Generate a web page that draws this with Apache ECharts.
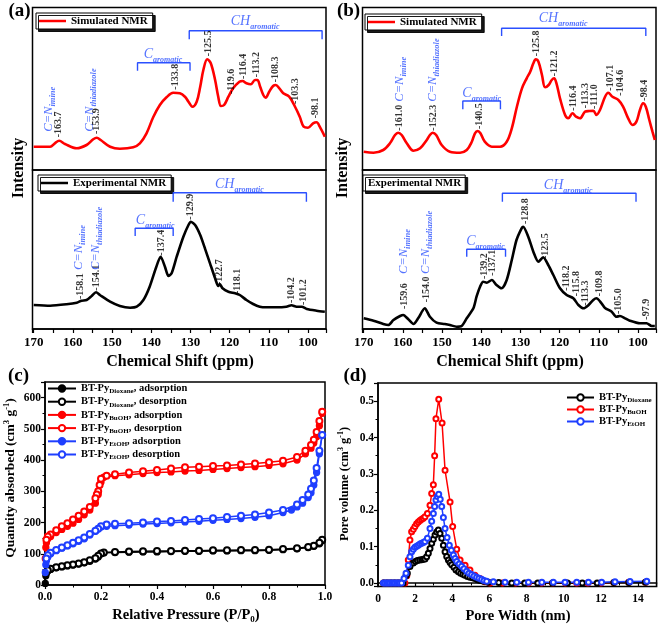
<!DOCTYPE html>
<html><head><meta charset="utf-8">
<script src="https://cdn.jsdelivr.net/npm/echarts/dist/echarts.min.js"></script>
<style>html,body{margin:0;padding:0;background:#fff}#c{width:661px;height:625px}</style>
</head><body><div id="c"></div>
<script>
const FF = "'Liberation Serif','Times New Roman',Times,serif";
const RED = '#ff0000', BLU = '#1f3fff', ANN = '#2b50ff';

// ---------- (a) 13C NMR ----------
const simA_ppm = [170,165.8,164.6,163.5,162.0,159.0,156.5,154.8,153.9,152.9,150.5,148.0,144.6,142.9,141.2,139.5,137.8,136.1,134.4,132.7,131.4,130.5,129.5,128.4,127.5,126.7,125.7,124.8,123.7,122.9,122.2,121.4,120.3,119.1,117.5,116.7,115.7,114.6,113.5,112.9,112.2,111.4,110.8,109.9,108.9,108.2,107.3,106.3,104.8,103.4,102.1,101.1,100.0,98.7,97.8,97.0,95.7];
const simA_int = [23.3,23.3,26.7,29.3,26.0,21.7,25.0,30.7,32.3,30.0,23.3,21.3,22.7,26.7,36.7,52.7,65.0,72.7,77.3,76.7,73.3,68.3,63.3,68.3,83.3,100.0,110.7,106.7,90.0,73.3,64.0,65.0,73.3,81.7,88.3,89.0,86.7,85.7,90.0,90.0,83.3,75.0,72.3,78.3,84.0,85.0,81.7,76.7,73.3,64.0,53.3,43.3,42.3,46.7,47.7,43.3,33.3];
const expA_ppm = [170,165.8,161.6,159.0,157.8,156.5,155.2,154.1,153.1,150.5,148.0,145.4,143.7,142.0,140.4,138.7,137.6,136.5,135.6,134.8,133.5,131.8,130.5,129.9,128.8,127.5,126.3,125.0,123.7,122.9,122.5,121.8,120.3,118.6,117.4,115.7,114.0,112.3,110.6,108.0,105.5,104.2,102.9,101.6,100.3,97.8,95.7];
const expA_int = [24.0,23.3,24.7,26.3,28.3,29.0,33.0,36.7,34.0,27.3,23.0,21.3,22.3,29.0,42.3,62.3,72.3,62.3,53.0,55.7,72.3,92.3,104.0,107.3,104.0,94.0,80.7,65.7,50.7,43.0,45.0,40.7,37.3,35.7,34.0,29.0,25.0,22.3,21.7,21.7,22.3,23.7,22.3,22.3,20.0,18.3,17.3];
const simA_peaks = [163.7,153.9,133.8,125.5,119.6,116.4,113.2,108.3,103.3,98.1];
const simA_peakH = [31.7,35,79.3,112.7,75,90,91.7,86.7,65,50.7];
const expA_peaks = [158.1,154.1,137.4,129.9,122.7,118.1,104.2,101.2];
const expA_peakH = [29,37.3,72.3,108.3,43,34,25,23];
const simA_cn = [[166.1,38.3],[155.7,38.3]];
const expA_cn = [[158.6,59],[154.1,59]];
const simA_brk = [[143.5,130.1,107.3,99.3],[130.3,96.4,139.3,130.7]];
const expA_brk = [[144.1,134.4,100.7,93],[134.4,100.4,136.3,127.3]];
const simA_brkTxt = [[137.0,116],[113.5,149]];
const expA_brkTxt = [[139.0,109],[117.5,145]];

// ---------- (b) 13C NMR ----------
const simB_ppm = [170,167.5,165.0,163.3,162.0,161.2,160.3,159.0,157.3,155.6,153.9,153.1,152.4,151.5,150.1,148.0,145.4,143.7,142.4,141.6,140.9,140.2,139.1,137.3,135.2,133.5,132.2,130.9,129.6,128.4,127.5,126.7,126.1,125.4,124.5,123.7,122.8,122.0,121.4,120.8,119.9,118.6,117.8,116.7,115.8,114.8,113.5,112.4,111.4,110.6,109.7,108.4,107.6,106.5,105.0,103.8,102.5,101.4,100.4,99.5,98.7,98.0,97.1,96.3,95.7];
const simB_int = [18.3,17.3,20.0,26.7,35.0,37.3,35.0,26.7,19.3,21.7,30.0,35.0,37.3,35.0,25.0,18.3,17.3,20.0,28.3,36.7,39.0,36.7,28.3,23.3,23.3,28.3,41.7,63.3,81.7,91.7,98.3,106.7,110.7,108.3,95.0,82.7,85.0,90.0,91.7,86.7,71.7,55.0,51.7,56.7,53.3,51.7,58.3,59.0,59.3,55.0,60.0,73.3,77.3,73.3,70.0,63.3,51.7,45.0,48.3,60.0,66.7,63.3,50.0,38.3,30.0];
const expB_ppm = [170,167.5,165.0,163.7,162.4,160.7,159.9,158.6,157.3,156.1,154.4,153.1,151.4,149.3,148.0,146.3,145.0,143.7,142.0,141.2,140.3,139.5,138.6,137.3,136.1,134.8,133.5,132.2,131.0,129.7,129.3,128.0,126.7,125.4,124.2,122.9,121.6,119.9,118.2,116.5,115.2,113.9,112.6,111.4,110.6,109.3,108.4,106.7,105.5,104.6,103.3,102.1,99.5,97.8,96.5,95.7];
const expB_int = [10.7,8.3,5.0,4.0,9.0,13.0,14.0,9.7,5.0,10.7,20.7,12.3,6.3,5.0,4.0,2.3,3.0,10.7,20.7,32.3,42.3,47.3,46.3,49.0,44.0,40.7,49.0,69.0,89.0,100.7,102.3,92.3,77.3,67.3,71.7,64.0,54.0,40.7,34.0,30.7,24.0,20.7,24.0,29.0,30.7,25.7,21.0,17.3,12.3,13.0,10.7,8.3,5.7,5.7,3.0,3.0];
const simB_peaks = [161.0,152.3,140.5,125.8,121.2,116.4,113.3,111.0,107.1,104.6,98.4];
const simB_peakH = [38.3,38.3,40,112.7,92.7,58.3,60.7,60,78.3,73.3,68.3];
const expB_peaks = [159.6,154.0,139.2,137.1,128.8,123.5,118.2,115.8,113.3,109.8,105.0,97.9];
const expB_peakH = [19,25.7,49,52.3,104,69,37.3,31.7,22.3,31.7,14,8.3];
const simB_cn = [[160.8,68.3],[152.5,68.3]];
const expB_cn = [[159.9,55],[154.1,55]];
const simB_brk = [[144.7,135.1,69,60.7],[134.8,98.0,141.7,134]];
const expB_brk = [[143.7,133.8,79.7,72.3],[134.6,100.5,135.7,127.3]];
const simB_brkTxt = [[139.9,76.7],[119.1,151.7]];
const expB_brkTxt = [[138.9,87.3],[117.8,144]];

// ---------- (c) N2 isotherms ----------
const P_ads_dx = [0.001,0.003,0.005,0.01,0.02,0.04,0.06,0.08,0.10,0.12,0.14,0.16,0.18,0.19,0.20,0.21,0.25,0.30,0.35,0.40,0.45,0.50,0.55,0.60,0.65,0.70,0.75,0.80,0.85,0.90,0.94,0.96,0.98,0.99];
const Q_ads_dx = [5,30,38,45,50,55,58,61,64,67,71,76,83,90,100,103,104,105,106,106,107,108,108,109,109,110,110,111,113,116,120,124,132,142];
const P_des_dx = [0.99,0.98,0.96,0.94,0.90,0.85,0.80,0.75,0.70,0.65,0.60,0.55,0.50,0.45,0.40,0.35,0.30,0.25,0.21,0.20,0.19,0.18,0.16,0.14,0.12,0.10,0.08,0.06,0.04,0.02,0.01];
const Q_des_dx = [145,135,126,122,118,115,113,112,112,111,111,110,110,109,109,108,107,106,104,101,94,86,79,73,69,66,63,60,57,52,47];
const P_ads_bu = [0.001,0.003,0.005,0.01,0.02,0.04,0.06,0.08,0.10,0.12,0.14,0.16,0.18,0.19,0.20,0.21,0.25,0.30,0.35,0.40,0.45,0.50,0.55,0.60,0.65,0.70,0.75,0.80,0.85,0.90,0.93,0.95,0.96,0.97,0.98,0.99];
const Q_ads_bu = [85,120,135,148,155,168,178,188,198,210,225,240,262,290,330,345,350,353,357,360,362,365,367,370,373,376,379,383,388,400,420,438,455,475,510,550];
const P_des_bu = [0.99,0.98,0.97,0.96,0.95,0.93,0.90,0.85,0.80,0.75,0.70,0.65,0.60,0.55,0.50,0.45,0.40,0.35,0.30,0.25,0.22,0.20,0.195,0.19,0.185,0.18,0.16,0.14,0.12,0.10,0.08,0.06,0.04,0.02,0.01,0.005];
const Q_des_bu = [555,525,490,465,448,430,410,398,393,389,386,383,381,379,377,373,368,364,360,355,350,340,320,300,290,278,250,235,222,210,198,188,175,162,155,145];
const P_ads_et = [0.001,0.003,0.005,0.01,0.02,0.04,0.06,0.08,0.10,0.12,0.14,0.16,0.18,0.19,0.20,0.22,0.25,0.30,0.35,0.40,0.45,0.50,0.55,0.60,0.65,0.70,0.75,0.80,0.85,0.88,0.90,0.92,0.94,0.95,0.96,0.97,0.98,0.99];
const Q_ads_et = [40,65,78,90,100,110,118,125,132,140,148,160,172,180,186,188,190,192,195,197,199,202,204,207,210,213,217,222,232,240,250,262,280,295,320,360,420,480];
const P_des_et = [0.99,0.98,0.97,0.96,0.95,0.94,0.92,0.90,0.85,0.80,0.75,0.70,0.65,0.60,0.55,0.50,0.45,0.40,0.35,0.30,0.25,0.22,0.20,0.19,0.18,0.16,0.14,0.12,0.10,0.08,0.06,0.04,0.02,0.01,0.005];
const Q_des_et = [480,430,375,335,308,290,272,258,240,232,226,222,218,214,211,208,205,203,200,198,196,194,188,180,174,163,152,143,135,127,120,112,103,95,85];

// ---------- (d) pore size distribution ----------
const pw_dx = [0.30,0.45,0.60,0.75,0.90,1.05,1.20,1.35,1.51,1.58,1.72,1.90,2.01,2.12,2.24,2.35,2.44,2.53,2.62,2.71,2.80,2.89,2.98,3.07,3.16,3.25,3.34,3.43,3.52,3.61,3.70,3.79,3.88,3.97,4.09,4.20,4.33,4.45,4.57,4.68,4.82,4.95,5.09,5.22,5.36,5.49,5.60,5.71,5.94,6.50,7.20,7.90,8.60,9.40,10.20,11.00,11.80,12.70,13.50,14.40];
const pv_dx = [0,0,0,0,0,0,0,0,0.020,0.027,0.045,0.055,0.059,0.062,0.063,0.064,0.065,0.066,0.072,0.082,0.095,0.109,0.120,0.132,0.140,0.146,0.136,0.123,0.104,0.086,0.073,0.063,0.056,0.050,0.043,0.036,0.031,0.027,0.024,0.021,0.018,0.016,0.014,0.012,0.009,0.007,0.006,0.005,0.002,0.001,0,0,0,0,0,0,0,0.001,0.001,0.002];
const pw_bu = [0.30,0.50,0.70,0.90,1.10,1.30,1.45,1.55,1.63,1.72,1.81,1.90,1.99,2.08,2.17,2.26,2.35,2.44,2.53,2.66,2.80,2.89,2.98,3.05,3.12,3.27,3.45,3.61,3.88,4.02,4.24,4.42,4.69,4.95,5.22,5.49,5.76,6.03,6.70,7.40,8.10,8.80,9.40,10.10,10.70,11.30,12.00,12.70,13.50,14.40];
const pv_bu = [0,0,0,0,0,0,0,0.020,0.063,0.118,0.141,0.148,0.155,0.163,0.168,0.172,0.175,0.178,0.182,0.191,0.214,0.246,0.270,0.350,0.452,0.505,0.440,0.310,0.223,0.155,0.093,0.063,0.049,0.036,0.021,0.012,0.003,0,0,0,0,0,0,0,0,0,0,0.001,0.002,0.002];
const pw_et = [0.29,0.38,0.47,0.56,0.65,0.74,0.83,0.92,1.01,1.10,1.18,1.27,1.40,1.51,1.63,1.72,1.81,1.90,1.99,2.08,2.17,2.26,2.35,2.44,2.53,2.66,2.80,2.89,2.98,3.05,3.12,3.20,3.27,3.35,3.43,3.52,3.61,3.72,3.84,3.95,4.06,4.15,4.24,4.37,4.50,4.63,4.77,4.90,5.04,5.17,5.31,5.44,5.58,5.71,5.85,6.21,6.84,7.47,8.10,8.82,9.44,10.07,10.70,11.33,12.04,12.76,13.57,14.47];
const pv_et = [0,0,0,0,0,0,0,0,0,0,0,0,0.012,0.027,0.049,0.072,0.086,0.093,0.098,0.101,0.104,0.107,0.109,0.111,0.114,0.123,0.150,0.170,0.191,0.210,0.228,0.238,0.244,0.230,0.210,0.180,0.150,0.125,0.104,0.090,0.077,0.067,0.059,0.052,0.046,0.039,0.032,0.027,0.023,0.019,0.016,0.013,0.010,0.007,0.005,0.003,0.002,0.002,0.002,0.002,0.002,0.002,0.002,0.002,0.002,0.003,0.004,0.005];

// ---------- helpers ----------
const zip = (a, b) => a.map((v, i) => [v, b[i]]);
const subRich = (main, sub, color, italic, mw) => ({
  m: {fontSize: main, fontFamily: FF, fontStyle: italic ? 'italic' : 'normal', fontWeight: mw || 'normal', color, lineHeight: main + 5},
  s: {fontSize: sub, fontFamily: FF, fontStyle: italic ? 'italic' : 'normal', fontWeight: 'bold', color, lineHeight: sub, verticalAlign: 'bottom'}
});
function curve(gi, xs, ys, color, name, sm) {
  return {type: 'line', name, xAxisIndex: gi, yAxisIndex: gi, data: zip(xs, ys), symbol: 'none', smooth: sm,
    lineStyle: {color, width: 2.6}, itemStyle: {color}, z: 3, silent: true};
}
function peakLabels(gi, vals, hs) {
  return {type: 'scatter', xAxisIndex: gi, yAxisIndex: gi, symbolSize: 0, silent: true, z: 6,
    data: vals.map((v, i) => ({name: '-' + v.toFixed(1), value: [v, hs[i]]})),
    label: {show: true, position: 'top', distance: 1, rotate: 90, align: 'left', verticalAlign: 'middle',
      formatter: p => p.name, fontFamily: FF, fontWeight: 'bold', fontSize: 10, color: '#000'}};
}
function cnLabels(gi, pos) {
  const subs = ['imine', 'thiadiazole'];
  return {type: 'scatter', xAxisIndex: gi, yAxisIndex: gi, symbolSize: 0, silent: true, z: 6,
    data: pos.map((p, i) => ({name: '{m|C=N}{s|' + subs[i] + '}', value: p})),
    label: {show: true, position: 'top', distance: 0, rotate: 90, align: 'left', verticalAlign: 'middle',
      formatter: p => p.name, rich: subRich(12.5, 8.5, ANN, true)}};
}
function brackets(gi, brk) {
  return brk.map(b => ({type: 'line', xAxisIndex: gi, yAxisIndex: gi, symbol: 'none', silent: true, z: 4,
    lineStyle: {color: ANN, width: 1.4}, data: [[b[0], b[3]], [b[0], b[2]], [b[1], b[2]], [b[1], b[3]]]}));
}
function bracketText(gi, pos) {
  const names = ['{m|C}{s|aromatic}', '{m|CH}{s|aromatic}'];
  return {type: 'scatter', xAxisIndex: gi, yAxisIndex: gi, symbolSize: 0, silent: true, z: 6,
    data: pos.map((p, i) => ({name: names[i], value: p})),
    label: {show: true, position: 'inside', align: 'center', verticalAlign: 'middle', formatter: p => p.name,
      rich: subRich(14, 8, ANN, true)}};
}
function iso(name, xs, ys, color, filled) {
  return {type: 'line', name, xAxisIndex: 4, yAxisIndex: 4, data: zip(xs, ys),
    symbol: filled ? 'circle' : 'emptyCircle', symbolSize: 6,
    lineStyle: {color, width: 1.5}, itemStyle: {color, borderColor: color, borderWidth: 1.3}};
}
function psd(name, xs, ys, color) {
  return {type: 'line', name, xAxisIndex: 5, yAxisIndex: 5, data: zip(xs, ys),
    symbol: 'emptyCircle', symbolSize: 5, lineStyle: {color, width: 1.5},
    itemStyle: {color, borderColor: color, borderWidth: 1.5}};
}

const boxGrid = (left, top, width, height) => ({left, top, width, height, show: true, borderColor: '#000', borderWidth: 1.5, backgroundColor: 'transparent', containLabel: false});
const axisFont = {fontFamily: FF, fontWeight: 'bold', color: '#000'};

function nmrX(gi, showLabels) {
  return {type: 'value', gridIndex: gi, min: 95.4, max: 170.3, inverse: true, minInterval: 10, maxInterval: 10,
    show: showLabels, splitLine: {show: false},
    axisLine: {lineStyle: {color: '#000', width: 1.5}},
    axisTick: {length: 4, lineStyle: {color: '#000', width: 1.2}},
    minorTick: {show: true, splitNumber: 2, length: 4, lineStyle: {color: '#000', width: 1.2}},
    axisLabel: Object.assign({fontSize: 13, margin: 7, showMinLabel: false, showMaxLabel: false}, axisFont)};
}
function nmrY(gi, max) {
  return {type: 'value', gridIndex: gi, min: 0, max, show: false, splitLine: {show: false}};
}
function nmrLegend(name, left, top, noIcon) {
  return {data: [noIcon ? {name, icon: 'none'} : {name, icon: 'rect'}], left, top, orient: 'horizontal',
    itemWidth: noIcon ? 0 : 27, itemHeight: 2.5, itemGap: 0, padding: noIcon ? [2, 4, 2, 0] : [2, 5, 2, 3],
    backgroundColor: '#fff', borderColor: '#000', borderWidth: 1,
    shadowColor: 'rgba(0,0,0,0.9)', shadowOffsetX: 2.5, shadowOffsetY: 2.5, shadowBlur: 0,
    selectedMode: false, textStyle: {fontFamily: FF, fontWeight: 'bold', fontSize: 11, color: '#000', lineHeight: 12}};
}

const legRich = {
  a: {fontFamily: FF, fontWeight: 'bold', fontSize: 10.5, color: '#000', lineHeight: 13},
  s: {fontFamily: FF, fontWeight: 'bold', fontSize: 7, color: '#000', lineHeight: 7, verticalAlign: 'bottom'}
};

const option = {
  animation: false,
  backgroundColor: '#fff',
  textStyle: {fontFamily: FF},
  grid: [
    boxGrid(32.5, 7.5, 293.5, 162.5),
    boxGrid(32.5, 170, 293.5, 159),
    boxGrid(362.5, 7.5, 293.5, 162.5),
    boxGrid(362.5, 170, 293.5, 159),
    boxGrid(45, 382, 280, 203),
    boxGrid(378, 383, 278.6, 203.6)
  ],
  xAxis: [
    nmrX(0, false), nmrX(1, true), nmrX(2, false), nmrX(3, true),
    {type: 'value', gridIndex: 4, min: 0, max: 1, interval: 0.2, splitLine: {show: false},
      axisLine: {lineStyle: {color: '#000', width: 1.5}},
      axisTick: {length: 4, lineStyle: {color: '#000', width: 1.2}},
      minorTick: {show: true, splitNumber: 2, length: 2.5, lineStyle: {color: '#000'}},
      axisLabel: Object.assign({fontSize: 11.5, margin: 6, formatter: v => v.toFixed(1)}, axisFont)},
    {type: 'value', gridIndex: 5, min: 0, max: 15, interval: 2, splitLine: {show: false},
      axisLine: {lineStyle: {color: '#000', width: 1.5}},
      axisTick: {length: 4, lineStyle: {color: '#000', width: 1.2}},
      minorTick: {show: true, splitNumber: 2, length: 2.5, lineStyle: {color: '#000'}},
      axisLabel: Object.assign({fontSize: 11.5, margin: 6, showMaxLabel: false}, axisFont)}
  ],
  yAxis: [
    nmrY(0, 162.5), nmrY(1, 159), nmrY(2, 162.5), nmrY(3, 159),
    {type: 'value', gridIndex: 4, min: 0, max: 650, interval: 100, splitLine: {show: false},
      axisLine: {lineStyle: {color: '#000', width: 1.5}},
      axisTick: {length: 4, lineStyle: {color: '#000', width: 1.2}},
      minorTick: {show: true, splitNumber: 2, length: 2.5, lineStyle: {color: '#000'}},
      axisLabel: Object.assign({fontSize: 11.5, margin: 4, showMaxLabel: false}, axisFont)},
    {type: 'value', gridIndex: 5, min: -0.01, max: 0.55, minInterval: 0.1, maxInterval: 0.1, splitLine: {show: false},
      axisLine: {lineStyle: {color: '#000', width: 1.5}},
      axisTick: {length: 4, lineStyle: {color: '#000', width: 1.2}},
      minorTick: {show: true, splitNumber: 2, length: 2.5, lineStyle: {color: '#000'}},
      axisLabel: Object.assign({fontSize: 11.5, margin: 4, showMinLabel: false, showMaxLabel: false, formatter: v => v.toFixed(1)}, axisFont)}
  ],
  legend: [
    nmrLegend('Simulated NMR', 36, 13, false),
    nmrLegend('Experimental NMR', 38, 175, false),
    nmrLegend('Simulated NMR', 365, 14, false),
    nmrLegend('Experimental NMR', 363, 175, true),
    {data: ['Dioxane|adsorption', 'Dioxane|desorption', 'BuOH|adsorption', 'BuOH|desorption', 'EtOH|adsorption', 'EtOH|desorption'],
      orient: 'vertical', left: 47, top: 383, itemWidth: 28, itemHeight: 8, itemGap: 1.2, padding: 0, selectedMode: false,
      formatter: n => { const p = n.split('|'); return '{a|BT-Py}{s|' + p[0] + '}{a|, ' + p[1] + '}'; },
      textStyle: {rich: legRich}},
    {data: ['Dioxane', 'BuOH', 'EtOH'], orient: 'vertical', left: 566, top: 392, itemWidth: 27, itemHeight: 8, itemGap: 0,
      padding: 0, selectedMode: false, formatter: n => '{a|BT-Py}{s|' + n + '}', textStyle: {rich: legRich}}
  ],
  series: [
    curve(0, simA_ppm, simA_int, RED, 'Simulated NMR', 0.35),
    curve(1, expA_ppm, expA_int, '#000', 'Experimental NMR', 0.25),
    curve(2, simB_ppm, simB_int, RED, 'Simulated NMR', 0.35),
    curve(3, expB_ppm, expB_int, '#000', 'Experimental NMR', 0.25),
    peakLabels(0, simA_peaks, simA_peakH), peakLabels(1, expA_peaks, expA_peakH),
    peakLabels(2, simB_peaks, simB_peakH), peakLabels(3, expB_peaks, expB_peakH),
    cnLabels(0, simA_cn), cnLabels(1, expA_cn), cnLabels(2, simB_cn), cnLabels(3, expB_cn),
    ...brackets(0, simA_brk), ...brackets(1, expA_brk), ...brackets(2, simB_brk), ...brackets(3, expB_brk),
    bracketText(0, simA_brkTxt), bracketText(1, expA_brkTxt), bracketText(2, simB_brkTxt), bracketText(3, expB_brkTxt),
    iso('Dioxane|adsorption', P_ads_dx, Q_ads_dx, '#000', true),
    iso('Dioxane|desorption', P_des_dx, Q_des_dx, '#000', false),
    iso('BuOH|adsorption', P_ads_bu, Q_ads_bu, RED, true),
    iso('BuOH|desorption', P_des_bu, Q_des_bu, RED, false),
    iso('EtOH|adsorption', P_ads_et, Q_ads_et, BLU, true),
    iso('EtOH|desorption', P_des_et, Q_des_et, BLU, false),
    psd('BuOH', pw_bu, pv_bu, RED),
    psd('Dioxane', pw_dx, pv_dx, '#000'),
    psd('EtOH', pw_et, pv_et, BLU)
  ],
  graphic: [
    {type: 'text', x: 19.5, y: 11, style: {text: '(a)', font: 'bold 19px ' + FF, fill: '#000', align: 'center', verticalAlign: 'middle', textAlign: 'center', textVerticalAlign: 'middle'}},
    {type: 'text', x: 348.5, y: 11, style: {text: '(b)', font: 'bold 19px ' + FF, fill: '#000', align: 'center', verticalAlign: 'middle', textAlign: 'center', textVerticalAlign: 'middle'}},
    {type: 'text', x: 18.5, y: 376, style: {text: '(c)', font: 'bold 19px ' + FF, fill: '#000', align: 'center', verticalAlign: 'middle', textAlign: 'center', textVerticalAlign: 'middle'}},
    {type: 'text', x: 355, y: 376, style: {text: '(d)', font: 'bold 19px ' + FF, fill: '#000', align: 'center', verticalAlign: 'middle', textAlign: 'center', textVerticalAlign: 'middle'}},
    {type: 'text', x: 19, y: 168, rotation: Math.PI / 2, style: {text: 'Intensity', font: 'bold 16px ' + FF, fill: '#000', align: 'center', verticalAlign: 'middle', textAlign: 'center', textVerticalAlign: 'middle'}},
    {type: 'text', x: 343, y: 168, rotation: Math.PI / 2, style: {text: 'Intensity', font: 'bold 16px ' + FF, fill: '#000', align: 'center', verticalAlign: 'middle', textAlign: 'center', textVerticalAlign: 'middle'}},
    {type: 'text', x: 180, y: 362, style: {text: 'Chemical Shift (ppm)', font: 'bold 16px ' + FF, fill: '#000', align: 'center', verticalAlign: 'middle', textAlign: 'center', textVerticalAlign: 'middle'}},
    {type: 'text', x: 510, y: 362, style: {text: 'Chemical Shift (ppm)', font: 'bold 16px ' + FF, fill: '#000', align: 'center', verticalAlign: 'middle', textAlign: 'center', textVerticalAlign: 'middle'}},
    {type: 'text', x: 11, y: 478, rotation: Math.PI / 2, style: {text: '{m|Quantity absorbed (cm}{p|3}{m| g}{p|-1}{m|)}', align: 'center', verticalAlign: 'middle', textAlign: 'center', textVerticalAlign: 'middle',
      rich: {m: {fontFamily: FF, fontWeight: 'bold', fontSize: 13.5, lineHeight: 17, fill: '#000', color: '#000'}, p: {fontFamily: FF, fontWeight: 'bold', fontSize: 8.5, lineHeight: 9, verticalAlign: 'top', fill: '#000', color: '#000'}}}},
    {type: 'text', x: 186, y: 615, style: {text: '{m|Relative Pressure (P/P}{s|0}{m|)}', align: 'center', verticalAlign: 'middle', textAlign: 'center', textVerticalAlign: 'middle',
      rich: {m: {fontFamily: FF, fontWeight: 'bold', fontSize: 14.5, lineHeight: 18, fill: '#000', color: '#000'}, s: {fontFamily: FF, fontWeight: 'bold', fontSize: 9, lineHeight: 9, verticalAlign: 'bottom', fill: '#000', color: '#000'}}}},
    {type: 'text', x: 345, y: 484, rotation: Math.PI / 2, style: {text: '{m|Pore volume (cm}{p|3}{m| g}{p|-1}{m|)}', align: 'center', verticalAlign: 'middle', textAlign: 'center', textVerticalAlign: 'middle',
      rich: {m: {fontFamily: FF, fontWeight: 'bold', fontSize: 12.5, lineHeight: 16, fill: '#000', color: '#000'}, p: {fontFamily: FF, fontWeight: 'bold', fontSize: 8, lineHeight: 8, verticalAlign: 'top', fill: '#000', color: '#000'}}}},
    {type: 'text', x: 518, y: 616, style: {text: 'Pore Width (nm)', font: 'bold 14.5px ' + FF, fill: '#000', align: 'center', verticalAlign: 'middle', textAlign: 'center', textVerticalAlign: 'middle'}}
  ]
};
const chart = echarts.init(document.getElementById('c'), null, {renderer: 'canvas'});
chart.setOption(option);
</script></body></html>
